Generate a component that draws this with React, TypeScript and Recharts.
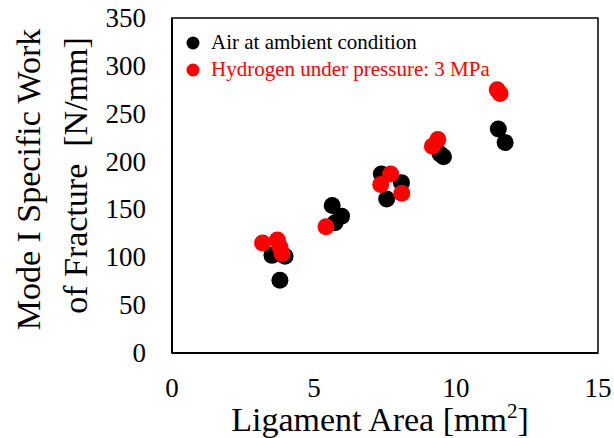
import * as React from 'react';
import { ScatterChart, Scatter, XAxis, YAxis, ReferenceArea, Legend } from 'recharts';

// ligament area [mm2] / mode I specific work of fracture [N/mm]
const airArea = [3.52, 3.8, 3.98, 5.64, 5.74, 5.97, 7.37, 7.56, 8.08, 9.44, 9.56, 11.49, 11.73];
const airWork = [102, 76, 101, 154, 136, 143, 187, 161, 178, 208, 205, 234, 220];
const h2Area = [3.19, 3.71, 3.8, 3.87, 5.42, 7.35, 7.7, 8.09, 9.17, 9.36, 11.45, 11.55];
const h2Work = [115, 118, 111, 104, 132, 176, 187, 167, 216, 223, 275, 271];

const xTicks = [0, 5, 10, 15];
const xMinorTicks = [0, 1, 2, 3, 4, 5, 6, 7, 8, 9, 10, 11, 12, 13, 14, 15];
const yTicks = [0, 50, 100, 150, 200, 250, 300, 350];
const yMinorTicks = [
  0, 10, 20, 30, 40, 50, 60, 70, 80, 90, 100, 110, 120, 130, 140, 150, 160, 170,
  180, 190, 200, 210, 220, 230, 240, 250, 260, 270, 280, 290, 300, 310, 320, 330, 340, 350,
];

const airData = airArea.map((x, i) => ({ x, y: airWork[i] }));
const h2Data = h2Area.map((x, i) => ({ x, y: h2Work[i] }));

const FONT = '"Liberation Serif", "Times New Roman", serif';

const dot = (color: string) => (props: any) =>
  <circle cx={props.cx} cy={props.cy} r={8.5} fill={color} />;

// tick labels drawn as plain text so the serif face sticks
const XTick = ({ x, y, payload }: any) => (
  <text x={x} y={y + 19} textAnchor="middle" fontFamily={FONT} fontSize={27} fill="#000">
    {payload.value}
  </text>
);

const YTick = ({ x, y, payload }: any) => (
  <text x={x} y={y + 9} textAnchor="end" fontFamily={FONT} fontSize={27} fill="#000">
    {payload.value}
  </text>
);

const renderLegend = ({ payload }: any) => (
  <div style={{ fontFamily: FONT, fontSize: 21 }}>
    {(payload || []).map((entry: any, i: number) => (
      <div key={i} style={{ display: 'flex', alignItems: 'center', height: 27, color: entry.color }}>
        <svg width={18} height={18} style={{ marginRight: 9 }}>
          <circle cx={9} cy={9} r={6.5} fill={entry.color} />
        </svg>
        <span>{entry.value}</span>
      </div>
    ))}
  </div>
);

const YTitle = (props: any) => {
  const { x, y, height } = props.viewBox;
  const cy = y + height / 2;
  const c1 = cy - 6;
  const c2 = cy - 10;
  return (
    <g fontFamily={FONT} fontSize={34} fill="#000">
      <text x={x + 40} y={c1} textAnchor="middle" transform={`rotate(-90 ${x + 40} ${c1})`}>
        Mode I Specific Work
      </text>
      <text x={x + 87} y={c2} textAnchor="middle" transform={`rotate(-90 ${x + 87} ${c2})`}
        style={{ whiteSpace: 'pre' }}>
        {'of Fracture  [N/mm]'}
      </text>
    </g>
  );
};

const XTitle = (props: any) => {
  const { x, y, width } = props.viewBox;
  return (
    <text x={x + width / 2 - 5} y={y + 78} textAnchor="middle" fontFamily={FONT} fontSize={34} fill="#000">
      Ligament Area [mm<tspan fontSize={21} dy={-13}>2</tspan><tspan dy={13}>]</tspan>
    </text>
  );
};

export default function App(): React.JSX.Element {
  return (
    <div style={{ position: 'absolute', left: 0, top: 0, background: '#fff', fontFamily: FONT }}>
      <ScatterChart width={614} height={438} margin={{ top: 18, right: 16, left: 0, bottom: 0 }}>
        <XAxis
          xAxisId="x"
          type="number"
          dataKey="x"
          domain={[0, 15]}
          ticks={xTicks}
          interval={0}
          height={85}
          tickSize={0}
          tickMargin={25}
          tick={<XTick />}
          axisLine={{ stroke: '#000', strokeWidth: 2 }}
          label={<XTitle />}
        />
        <XAxis
          xAxisId="xMinor"
          type="number"
          dataKey="x"
          domain={[0, 15]}
          ticks={xMinorTicks}
          interval={0}
          mirror
          tick={false}
          tickSize={7}
          tickLine={{ stroke: '#000', strokeWidth: 1.5 }}
          axisLine={false}
        />
        <YAxis
          yAxisId="y"
          type="number"
          dataKey="y"
          domain={[0, 350]}
          ticks={yTicks}
          interval={0}
          width={172}
          tickSize={0}
          tickMargin={26}
          tick={<YTick />}
          axisLine={{ stroke: '#000', strokeWidth: 2 }}
          label={<YTitle />}
        />
        <YAxis
          yAxisId="yMinor"
          type="number"
          dataKey="y"
          domain={[0, 350]}
          ticks={yMinorTicks}
          interval={0}
          mirror
          tick={false}
          tickSize={5}
          tickLine={{ stroke: '#000', strokeWidth: 1.5 }}
          axisLine={false}
        />
        <YAxis
          yAxisId="yMajor"
          type="number"
          dataKey="y"
          domain={[0, 350]}
          ticks={yTicks}
          interval={0}
          mirror
          tick={false}
          tickSize={8}
          tickLine={{ stroke: '#000', strokeWidth: 1.5 }}
          axisLine={false}
        />
        <ReferenceArea
          xAxisId="x"
          yAxisId="y"
          x1={0}
          x2={15}
          y1={0}
          y2={350}
          fill="none"
          fillOpacity={0}
          stroke="#000"
          strokeWidth={1.5}
        />
        <Legend
          layout="vertical"
          align="center"
          verticalAlign="middle"
          content={renderLegend}
          wrapperStyle={{ left: 184, top: 29, width: 'auto' }}
        />
        <Scatter
          name="Air at ambient condition"
          data={airData}
          xAxisId="x"
          yAxisId="y"
          fill="#000"
          shape={dot('#000')}
          isAnimationActive={false}
        />
        <Scatter
          name="Hydrogen under pressure: 3 MPa"
          data={h2Data}
          xAxisId="x"
          yAxisId="y"
          fill="#ff0000"
          shape={dot('#ff0000')}
          isAnimationActive={false}
        />
      </ScatterChart>
    </div>
  );
}
